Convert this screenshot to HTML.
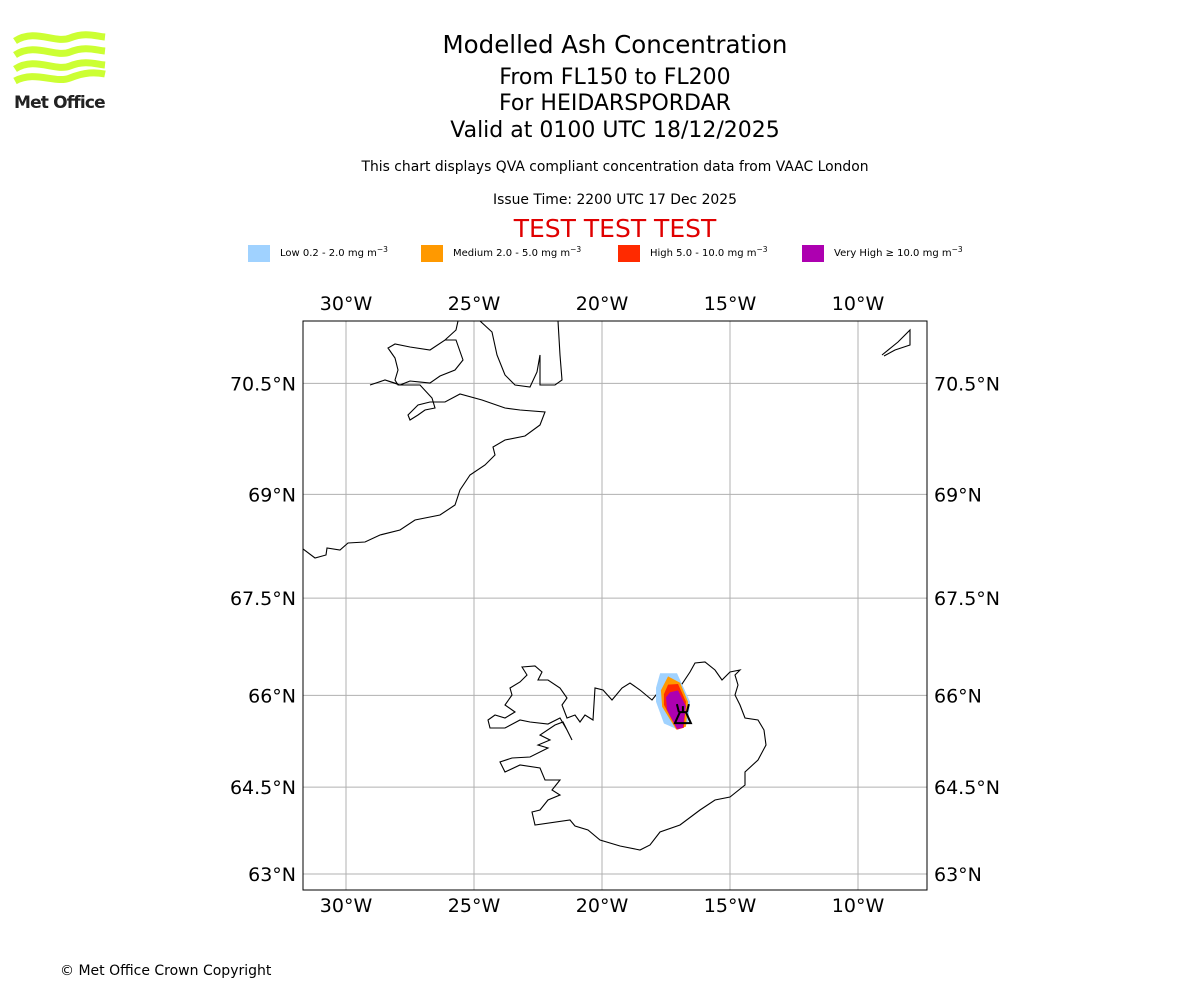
<!DOCTYPE html>
<html><head><meta charset="utf-8"><style>
body{margin:0;background:#fff;font-family:"DejaVu Sans","Liberation Sans",sans-serif}
#wrap{position:relative;width:1200px;height:1000px;overflow:hidden}
text{font-family:"DejaVu Sans","Liberation Sans",sans-serif}
</style></head><body><div id="wrap">
<svg width="1200" height="1000" style="position:absolute;left:0;top:0" id="svg">
<g fill="none" stroke="#ccff33" stroke-width="7">
<path d="M15,41 C35,28 55,44 70,38 C85,32 95,36 105,37"/>
<path d="M15,55 C35,42 55,58 70,52 C85,46 95,50 105,51"/>
<path d="M15,69 C35,56 55,72 70,66 C85,60 95,64 105,65"/>
<path d="M15,81 C35,70 55,84 70,78 C85,72 95,72 105,74"/>
</g>
<text x="14" y="108" font-size="17" font-weight="bold" fill="#222" letter-spacing="-0.6" textLength="91">Met Office</text>
<text x="615" y="53" font-size="24.5" text-anchor="middle">Modelled Ash Concentration</text>
<text x="615" y="84" font-size="22" text-anchor="middle">From FL150 to FL200</text>
<text x="615" y="110" font-size="22" text-anchor="middle">For HEIDARSPORDAR</text>
<text x="615" y="137" font-size="22" text-anchor="middle">Valid at 0100 UTC 18/12/2025</text>
<text x="615" y="171" font-size="13.9" text-anchor="middle">This chart displays QVA compliant concentration data from VAAC London</text>
<text x="615" y="204" font-size="13.9" text-anchor="middle">Issue Time: 2200 UTC 17 Dec 2025</text>
<text x="615" y="237" font-size="25" text-anchor="middle" fill="#e00000">TEST TEST TEST</text>
<g id="legend"></g>
<g id="map"></g>
<text x="60" y="975" font-size="14">© Met Office Crown Copyright</text>
</svg></div>
<script>
const lonTicks=[-30,-25,-20,-15,-10];
const latTicks=[63,64.5,66,67.5,69,70.5];
const levelNames=["Low 0.2 - 2.0 mg m","Medium 2.0 - 5.0 mg m","High 5.0 - 10.0 mg m","Very High \u2265 10.0 mg m"];
const levelColors=["#a0d2ff","#ff9900","#ff2a00","#ad00b0"];
const plumeLow=[[-17.73,66.35],[-17.07,66.35],[-16.56,65.9],[-16.64,65.55],[-17.03,65.45],[-17.58,65.55],[-17.89,65.9],[-17.89,66.12]];
const plumeMed=[[-17.42,66.3],[-16.95,66.2],[-16.64,65.9],[-16.72,65.5],[-17.1,65.45],[-17.65,65.82],[-17.7,66.08]];
const plumeHigh=[[-17.42,66.17],[-17.03,66.18],[-16.72,65.9],[-16.8,65.48],[-17.07,65.45],[-17.58,65.85],[-17.58,66.02]];
const plumeVHigh=[[-17.34,66.05],[-17.03,66.08],[-16.72,65.83],[-16.84,65.48],[-17.07,65.46],[-17.46,65.77],[-17.5,65.97]];
const volcano=[-16.84,65.7];
const NS='http://www.w3.org/2000/svg';
function mk(t,a,p){const e=document.createElementNS(NS,t);for(const k in a)e.setAttribute(k,a[k]);p.appendChild(e);return e;}
const X0=303,X1=927,Y0=321,Y1=890;
const pxPerDeg=25.6;
function xs(lon){return 346+(lon+30)*pxPerDeg;}
function merc(lat){return Math.log(Math.tan(Math.PI/4+lat*Math.PI/360));}
const K=pxPerDeg*180/Math.PI;
function ys(lat){return 874-(merc(lat)-merc(63))*K;}
const lg=document.getElementById('legend');
const lx=[248,421,618,802];
levelNames.forEach((n,i)=>{
 const r=mk('rect',{x:lx[i],y:245,width:22,height:17,fill:levelColors[i]},lg);
 
 
 const t=mk('text',{x:lx[i]+32,y:256,'font-size':10},lg);
 t.textContent=n;
 const s=mk('tspan',{dy:-4,'font-size':7.5},t);s.textContent='\u22123';
 
 
});
const m=document.getElementById('map');
const cp=mk('clipPath',{id:'cp'},m);
mk('rect',{x:X0,y:Y0,width:X1-X0,height:Y1-Y0},cp);
const g=mk('g',{'clip-path':'url(#cp)'},m);
lonTicks.forEach(v=>{const l=mk('line',{x1:xs(v),x2:xs(v),y1:Y0,y2:Y1,stroke:'#b0b0b0','stroke-width':1},g);
 
 [310,912].forEach(y=>{const t=mk('text',{x:xs(v),y:y,'font-size':19,'text-anchor':'middle'},m);t.textContent=(-v)+'°W';
 });});
latTicks.forEach(v=>{const l=mk('line',{x1:X0,x2:X1,y1:ys(v),y2:ys(v),stroke:'#b0b0b0','stroke-width':1},g);
 
 const a=mk('text',{x:296,y:ys(v)+7,'font-size':19,'text-anchor':'end'},m);a.textContent=v+'°N';
 
 const b=mk('text',{x:934,y:ys(v)+7,'font-size':19},m);b.textContent=v+'°N';
 });
const coast=[
"M522,667 L535,666 542,672 538,680 548,680 560,688 567,698 562,705 567,718 575,715 580,722 585,715 593,720 595,688 603,690 612,700 622,688 630,683 640,690 652,700 660,690 668,685 675,680 682,684 690,672 695,663 705,662 715,670 722,680 730,672 740,670 735,675 738,685 735,695 740,705 745,718 758,720 764,730 766,745 758,760 745,772 745,785 730,797 715,800 700,810 680,825 660,832 650,845 640,850 620,846 600,840 588,830 575,826 570,820 535,825 532,812 540,810 548,800 560,795 552,790 560,780 545,780 540,768 520,765 505,772 500,762 512,758 530,757 548,748 538,745 550,740 540,735 555,725 563,722 572,740 567,730 560,718 548,724 530,722 520,720 505,728 490,728 488,720 495,715 505,718 515,712 505,705 512,695 510,688 520,682 527,675Z",
"M303,549 L315,558 326,555 327,548 340,550 348,543 365,542 380,535 400,530 415,520 440,515 455,505 460,490 470,475 485,465 495,455 493,447 505,440 525,436 540,425 545,412 520,410 505,408 482,400 460,394 445,402 430,402 418,405 408,415 410,420 418,415 425,410 435,408 432,398 420,385 398,385 395,380 398,370 395,358 388,348 395,344 410,347 430,350 445,340 456,340 463,360 455,370 440,376 430,383 410,381 400,385 385,380 370,385 385,380 398,384",
"M445,340 L456,330 458,321",
"M480,321 L492,332 497,355 505,375 515,385 530,387 537,372 540,355 540,385 555,385 562,380 560,355 558,321",
"M882,355 L898,342 910,330 910,345 895,350 884,356"];
coast.forEach((d,i)=>{const p=mk('path',{d:d,fill:'none',stroke:'#000','stroke-width':1.1},g);
 });
[plumeLow,plumeMed,plumeHigh,plumeVHigh].forEach((poly,i)=>{
 const p=mk('polygon',{points:poly.map(q=>xs(q[0])+','+ys(q[1])).join(' '),fill:levelColors[i]},g);
 });
const vx=xs(volcano[0]),vy=ys(volcano[1]);
const v=mk('path',{d:`M${vx-8},${vy+9} L${vx-3},${vy-2} L${vx+3},${vy-2} L${vx+8},${vy+9}Z M${vx-4},${vy-2} L${vx-6},${vy-10} M${vx+4},${vy-2} L${vx+6},${vy-10} M${vx},${vy-2} L${vx},${vy-8}`,fill:'none',stroke:'#000','stroke-width':2},g);

const f=mk('rect',{x:X0,y:Y0,width:X1-X0,height:Y1-Y0,fill:'none',stroke:'#000','stroke-width':1},m);

</script></body></html>
